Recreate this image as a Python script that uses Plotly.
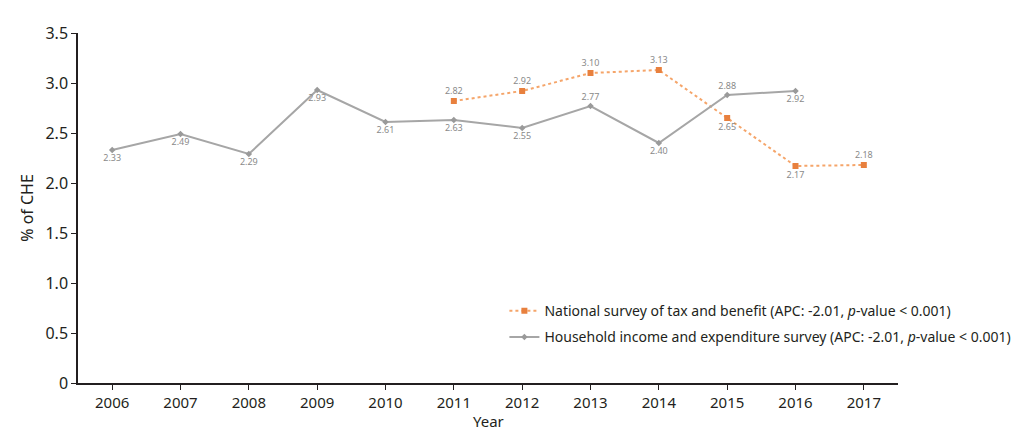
import plotly.graph_objects as go

years_house = [2006, 2007, 2008, 2009, 2010, 2011, 2012, 2013, 2014, 2015, 2016]
house_vals = [2.33, 2.49, 2.29, 2.93, 2.61, 2.63, 2.55, 2.77, 2.40, 2.88, 2.92]
house_pos = ["bottom center", "bottom center", "bottom center", "bottom center", "bottom center",
             "bottom center", "bottom center", "top center", "bottom center", "top center", "bottom center"]

years_nat = [2011, 2012, 2013, 2014, 2015, 2016, 2017]
nat_vals = [2.82, 2.92, 3.10, 3.13, 2.65, 2.17, 2.18]
nat_pos = ["top center", "top center", "top center", "top center", "bottom center", "bottom center", "top center"]

x_ticks = list(range(2006, 2018))
y_ticks = [0, 0.5, 1.0, 1.5, 2.0, 2.5, 3.0, 3.5]
y_tick_text = ["0", "0.5", "1.0", "1.5", "2.0", "2.5", "3.0", "3.5"]

nat_name = "National survey of tax and benefit (APC: -2.01, <i>p</i>-value < 0.001)"
house_name = "Household income and expenditure survey (APC: -2.01, <i>p</i>-value < 0.001)"

fig = go.Figure()
fig.add_trace(go.Scatter(
    x=years_nat, y=nat_vals, mode="lines+markers+text", name=nat_name, legendgroup="nat",
    line=dict(color="#f5a56a", width=2, dash="dot"),
    marker=dict(symbol="square", size=6, color="#e8803e"),
    text=[f"{v:.2f}" for v in nat_vals], textposition=nat_pos,
    textfont=dict(size=9, color="#8a8a8a"),
))
fig.add_trace(go.Scatter(
    x=years_house, y=house_vals, mode="lines+markers+text", name=house_name, legendgroup="house",
    line=dict(color="#a6a6a6", width=2),
    marker=dict(symbol="diamond", size=5, color="#9a9a9a"),
    text=[f"{v:.2f}" for v in house_vals], textposition=house_pos,
    textfont=dict(size=9, color="#8a8a8a"),
))

fig.add_annotation(text="Year", xref="paper", yref="paper", x=0.5, y=-0.14,
                   xanchor="center", yanchor="bottom", showarrow=False, borderpad=0,
                   font=dict(size=15, color="#231f20"))

fig.update_layout(
    width=1025, height=433,
    margin=dict(l=70, r=135, t=25, b=58),
    paper_bgcolor="white", plot_bgcolor="white",
    font=dict(family="Noto Sans, sans-serif", size=15, color="#231f20"),
    showlegend=True,
    legend=dict(x=0.52, y=0.168, xanchor="left", yanchor="middle", traceorder="grouped",
                font=dict(size=14), bgcolor="rgba(0,0,0,0)", tracegroupgap=5),
    xaxis=dict(range=[2005.5, 2017.5], tickvals=x_ticks, ticktext=[str(t) for t in x_ticks],
               showline=True, linecolor="#231f20", linewidth=1.5, ticks="outside", ticklen=5,
               tickcolor="#231f20", showgrid=False, zeroline=False, tickfont=dict(size=15)),
    yaxis=dict(range=[0, 3.5], tickvals=y_ticks, ticktext=y_tick_text,
               showline=True, linecolor="#231f20", linewidth=1.5, ticks="outside", ticklen=5,
               tickcolor="#231f20", showgrid=False, zeroline=False,
               title=dict(text="% of CHE", standoff=8, font=dict(size=16)), tickfont=dict(size=16)),
)

fig.write_html("out.html")
